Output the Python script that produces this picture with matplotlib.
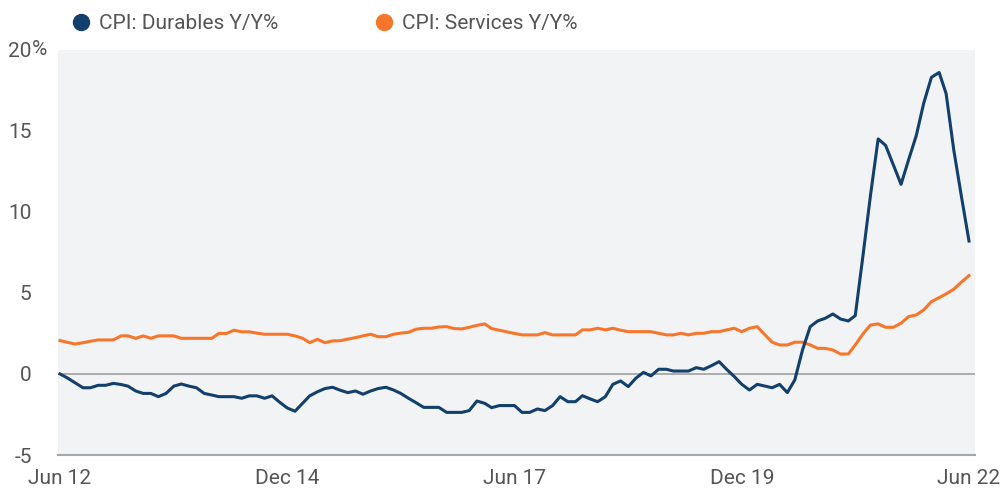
import pandas as pd
import matplotlib
matplotlib.use("Agg")
import matplotlib.pyplot as plt
from matplotlib.lines import Line2D

# monthly, Jun 2012 .. Jun 2022
dates = pd.date_range("2012-06-01", "2022-06-01", freq="MS")

durables = [
    0.0, -0.25, -0.55, -0.85, -0.85, -0.7, -0.7, -0.58, -0.65, -0.75,
    -1.05, -1.2, -1.2, -1.4, -1.2, -0.75, -0.62, -0.75, -0.85, -1.2,
    -1.3, -1.4, -1.4, -1.4, -1.5, -1.35, -1.35, -1.5, -1.35, -1.75,
    -2.1, -2.3, -1.8, -1.35, -1.1, -0.9, -0.82, -1.0, -1.15, -1.05,
    -1.25, -1.05, -0.9, -0.82, -0.99, -1.2, -1.5, -1.77, -2.06, -2.06,
    -2.06, -2.37, -2.37, -2.37, -2.26, -1.67, -1.81, -2.08, -1.95, -1.95,
    -1.95, -2.37, -2.37, -2.16, -2.26, -1.95, -1.4, -1.71, -1.71, -1.34,
    -1.54, -1.71, -1.4, -0.64, -0.43, -0.78, -0.27, 0.1, -0.12, 0.29,
    0.29, 0.18, 0.18, 0.18, 0.39, 0.29, 0.51, 0.76, 0.29, -0.16,
    -0.64, -0.99, -0.64, -0.74, -0.85, -0.64, -1.15, -0.37, 1.48, 2.92,
    3.27, 3.44, 3.7, 3.39, 3.27, 3.6, 7.3, 11.0, 14.5, 14.1,
    12.9, 11.7, 13.2, 14.7, 16.7, 18.3, 18.6, 17.3, 13.8, 11.0,
    8.2,
]

services = [
    2.06, 1.95, 1.85, 1.93, 2.02, 2.1, 2.1, 2.1, 2.35, 2.35,
    2.2, 2.35, 2.2, 2.35, 2.35, 2.35, 2.2, 2.2, 2.2, 2.2,
    2.2, 2.5, 2.5, 2.7, 2.6, 2.6, 2.52, 2.45, 2.45, 2.45,
    2.45, 2.35, 2.2, 1.93, 2.14, 1.93, 2.04, 2.05, 2.15, 2.24,
    2.35, 2.45, 2.3, 2.3, 2.45, 2.52, 2.57, 2.76, 2.82, 2.82,
    2.9, 2.92, 2.8, 2.78, 2.88, 3.0, 3.09, 2.8, 2.7, 2.6,
    2.5, 2.41, 2.41, 2.41, 2.55, 2.41, 2.41, 2.41, 2.41, 2.72,
    2.72, 2.82, 2.72, 2.82, 2.7, 2.61, 2.61, 2.61, 2.61, 2.51,
    2.41, 2.41, 2.51, 2.41, 2.51, 2.51, 2.61, 2.61, 2.72, 2.82,
    2.61, 2.82, 2.92, 2.45, 1.96, 1.79, 1.79, 1.96, 1.96, 1.79,
    1.58, 1.58, 1.48, 1.23, 1.23, 1.79, 2.47, 3.02, 3.09, 2.88,
    2.88, 3.13, 3.54, 3.64, 3.95, 4.46, 4.71, 4.94, 5.23, 5.66,
    6.07,
]

y_ticks = [-5, 0, 5, 10, 15, 20]
x_tick_dates = ["2012-06-01", "2014-12-01", "2017-06-01", "2019-12-01", "2022-06-01"]
x_tick_labels = ["Jun 12", "Dec 14", "Jun 17", "Dec 19", "Jun 22"]

NAVY = "#123f6b"
ORANGE = "#f7762b"
TEXT = "#555555"
YPAD = 19  # points between axis and right edge of y labels

plt.rcParams["font.family"] = ["Roboto", "DejaVu Sans"]


def main():
    fig = plt.figure(figsize=(10.01, 4.9), dpi=100)
    ax = fig.add_axes([0.058, 0.0714, 0.916, 0.827])
    ax.set_facecolor("#f2f3f5")

    ax.axhline(0, color="#a6a6a6", lw=1.3, zorder=1)
    ax.plot(dates, services, color=ORANGE, lw=2.2, zorder=3)
    ax.plot(dates, durables, color=NAVY, lw=2.2, zorder=4)

    ax.set_ylim(-5, 20)
    ax.set_xlim(dates[0] - pd.Timedelta(days=8), dates[-1] + pd.Timedelta(days=24))

    for side in ["top", "right", "left"]:
        ax.spines[side].set_visible(False)
    ax.spines["bottom"].set_color("#a6a6a6")
    ax.spines["bottom"].set_linewidth(1.5)

    ax.set_yticks(y_ticks)
    ax.set_yticklabels([str(t) for t in y_ticks])
    ax.tick_params(axis="y", length=0, pad=YPAD, labelsize=15, labelcolor=TEXT)
    # percent sign glued to the right of the top label
    ax.annotate("%", xy=(0, 20), xycoords=ax.get_yaxis_transform(),
                xytext=(-YPAD, 0), textcoords="offset points",
                ha="left", va="center", fontsize=15, color=TEXT)

    ax.set_xticks(pd.to_datetime(x_tick_dates))
    ax.set_xticklabels(x_tick_labels)
    ax.tick_params(axis="x", length=0, pad=10, labelsize=15, labelcolor=TEXT)

    handles = [
        Line2D([], [], ls="none", marker="o", ms=11.5, color=NAVY),
        Line2D([], [], ls="none", marker="o", ms=11.5, color=ORANGE),
    ]
    fig.legend(handles, ["CPI: Durables Y/Y%", "CPI: Services Y/Y%"],
               loc="upper left", bbox_to_anchor=(0.052, 1.01), ncol=2,
               frameon=False, fontsize=15, labelcolor=TEXT,
               handletextpad=0.35, columnspacing=4.6, handlelength=1.0)

    fig.savefig("out.png", dpi=100)
    plt.close(fig)


if __name__ == "__main__":
    main()
